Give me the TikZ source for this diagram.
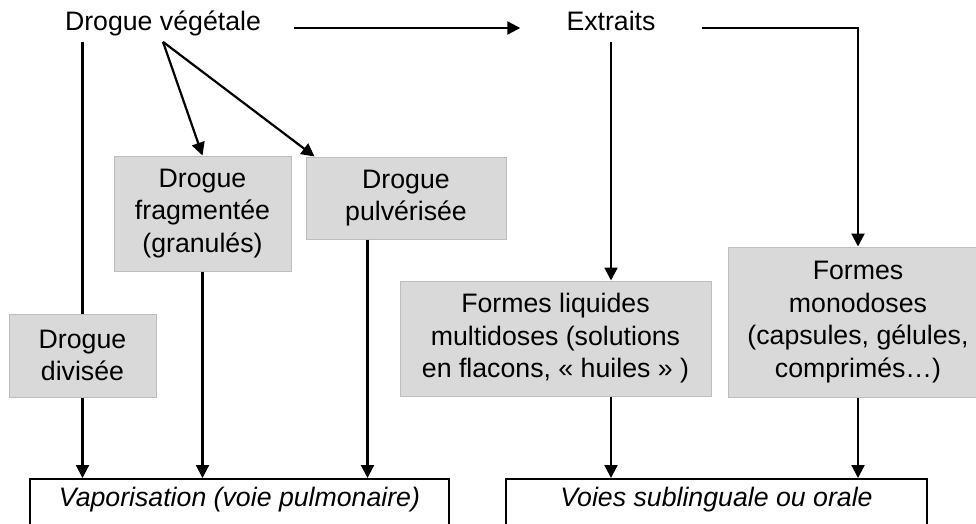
\documentclass[tikz,border=0pt]{standalone}
\usepackage{fontspec}
\setmainfont{Liberation Sans}
\usetikzlibrary{arrows.meta}

\definecolor{boxgray}{HTML}{D9D9D9}
\definecolor{boxedge}{HTML}{BDBDBD}

\begin{document}
\begin{tikzpicture}[x=1pt,y=-1pt,font=\fontsize{26.7}{32.5}\selectfont,
  lbl/.style={text height=0.75em, text depth=0.25em, inner ysep=8.7pt},
  gbox/.style={fill=boxgray, draw=boxedge, line width=1pt, inner sep=0pt, align=center},
  wbox/.style={draw=black, line width=2pt, inner sep=0pt, font=\fontsize{26.7}{32.5}\selectfont\itshape, text height=0.75em, text depth=0.25em},
  arr/.style={line width=2.2pt, -{Triangle[length=13pt,width=13pt]}},
  ln/.style={line width=2.2pt}]

\useasboundingbox (0,0) rectangle (976,524);

\node[lbl,inner xsep=33pt] (vege) at (163,28) {Drogue végétale};
\node[lbl,inner xsep=46pt] (extr) at (611,28) {Extraits};

\node[gbox,minimum width=177pt,minimum height=115pt] (frag) at (202.5,213.5) {Drogue\\fragmentée\\(granulés)};
\node[gbox,minimum width=200pt,minimum height=82pt] (pulv) at (406,198) {Drogue\\pulvérisée};
\node[gbox,minimum width=147pt,minimum height=83pt] (div) at (82.5,355.5) {Drogue\\divisée};

\node[gbox,minimum width=311pt,minimum height=115pt] (liq) at (555.5,338.5) {Formes liquides\\multidoses (solutions\\en flacons, « huiles » )};
\node[gbox,minimum width=260pt,minimum height=150pt] (mono) at (858,322) {Formes\\monodoses\\(capsules, gélules,\\comprimés…)};

\node[wbox,minimum width=419pt,minimum height=50pt] (vapo) at (239.5,504) {Vaporisation (voie pulmonaire)};
\node[wbox,minimum width=421pt,minimum height=50pt] (voies) at (716.5,504) {Voies sublinguale ou orale};

\coordinate (pulvin) at ([xshift=9pt]pulv.north west);
\coordinate (pulvout) at ([xshift=62pt]pulv.south west);

\draw[arr] (vege.east) -- (extr.west);
\draw[arr] (vege.south) -- (frag.north);
\draw[arr] (vege.south) -- (pulvin);

\draw[ln] (vege.south -| div.north) -- (div.north);
\draw[arr] (div.south) -- (div.south |- vapo.north);
\draw[arr] (frag.south) -- (frag.south |- vapo.north);
\draw[arr] (pulvout) -- (pulvout |- vapo.north);

\draw[arr] (extr.south) -- (extr.south |- liq.north);
\draw[arr] (liq.south -| extr.south) -- (extr.south |- voies.north);
\draw[arr] (extr.east) -| (mono.north);
\draw[arr] (mono.south) -- (mono.south |- voies.north);

\end{tikzpicture}
\end{document}
